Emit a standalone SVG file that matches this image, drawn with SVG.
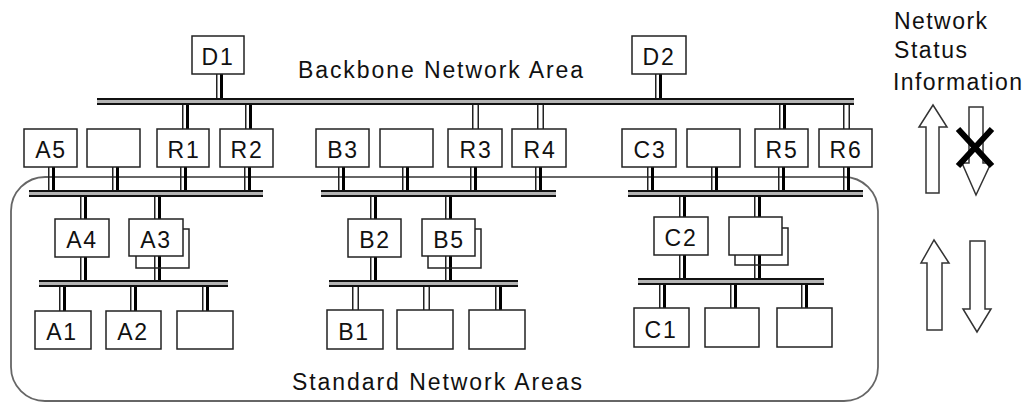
<svg xmlns="http://www.w3.org/2000/svg" width="1028" height="404" viewBox="0 0 1028 404">
  <style>
    text { font-family: "Liberation Sans", Arial, sans-serif; fill: #111; }
    .lbl { font-size: 23px; letter-spacing: 1.8px; text-anchor: middle; }
    .title { font-size: 23px; }
    .box { fill: #fff; stroke: #222; stroke-width: 1.5; }
    .back { fill: none; stroke: #222; stroke-width: 1.5; }
    .area { fill: none; stroke: #666; stroke-width: 1.8; }
    .bus-fill { fill: #b4b4b4; }
    .bus-edge { stroke: #111; stroke-width: 2; }
    .thin { stroke: #222; stroke-width: 1.5; }
    .thick { stroke: #000; stroke-width: 3; }
    .arrow { fill: #fff; stroke: #333; stroke-width: 1.5; stroke-linejoin: miter; }
    .cross { stroke: #000; stroke-width: 6; stroke-linecap: butt; }
  </style>

  <!-- boundary of the standard network areas -->
  <rect class="area" x="11" y="177" width="867" height="224" rx="34" ry="34"/>

  <!-- drop links between buses and stations -->
  <g id="connectors">
    <!-- backbone links -->
    <path class="thin" d="M216.75 74V98 M655.75 74V98 M182.75 105V129 M245.75 105V129 M472.75 105V129 M537.75 105V129 M779.75 105V129 M843.75 105V129 M478.25 105V129 M543.25 105V129 M849.25 105V129"/>
    <path class="thick" d="M221.5 74V98 M660.5 74V98 M187.5 105V129 M250.5 105V129 M784.5 105V129"/>
    <!-- row two to area buses -->
    <path class="thin" d="M48.75 167V190 M112.75 167V190 M180.75 167V190 M244.75 167V190 M338.75 167V190 M402.75 167V190 M470.75 167V190 M535.75 167V190 M647.75 167V190 M711.75 167V190 M778.75 167V190 M843.75 167V190"/>
    <path class="thick" d="M53.5 167V190 M117.5 167V190 M185.5 167V190 M249.5 167V190 M343.5 167V190 M407.5 167V190 M475.5 167V190 M540.5 167V190 M652.5 167V190 M716.5 167V190 M783.5 167V190 M848.5 167V190"/>
    <!-- area buses to routers below -->
    <path class="thin" d="M80.75 197V219 M154.75 197V219 M370.75 197V219 M445.75 197V219 M679.75 197V217 M754.75 197V217 M80.75 257V280 M154.75 256V280 M370.75 257V280 M445.75 256V280 M679.75 255V278 M754.75 255V278"/>
    <path class="thick" d="M85.5 197V219 M159.5 197V219 M375.5 197V219 M450.5 197V219 M684.5 197V217 M759.5 197V217 M85.5 257V280 M159.5 256V280 M375.5 257V280 M450.5 256V280 M684.5 255V278 M759.5 255V278"/>
    <!-- lower buses to end stations -->
    <path class="thin" d="M59.75 287V311 M130.75 287V311 M202.75 287V311 M352.75 287V310 M358.25 287V310 M423.75 287V310 M429.25 287V310 M495.75 287V310 M659.75 285V308 M730.75 285V308 M801.75 285V308"/>
    <path class="thick" d="M64.5 287V311 M135.5 287V311 M207.5 287V311 M500.5 287V310 M664.5 285V308 M735.5 285V308 M806.5 285V308"/>
  </g>

  <!-- network segments -->
  <g id="buses">
    <g id="bus-backbone">
      <rect class="bus-fill" x="97" y="98" width="757" height="7"/>
      <path class="bus-edge" d="M97 99H854 M97 104H854"/>
    </g>
    <g id="bus-a">
      <rect class="bus-fill" x="29" y="190" width="234" height="7"/>
      <path class="bus-edge" d="M29 191H263 M29 196H263"/>
    </g>
    <g id="bus-b">
      <rect class="bus-fill" x="321" y="190" width="235" height="7"/>
      <path class="bus-edge" d="M321 191H556 M321 196H556"/>
    </g>
    <g id="bus-c">
      <rect class="bus-fill" x="628" y="190" width="235" height="7"/>
      <path class="bus-edge" d="M628 191H863 M628 196H863"/>
    </g>
    <g id="bus-a-lower">
      <rect class="bus-fill" x="39" y="280" width="189" height="7"/>
      <path class="bus-edge" d="M39 281H228 M39 286H228"/>
    </g>
    <g id="bus-b-lower">
      <rect class="bus-fill" x="329" y="280" width="189" height="7"/>
      <path class="bus-edge" d="M329 281H518 M329 286H518"/>
    </g>
    <g id="bus-c-lower">
      <rect class="bus-fill" x="638" y="278" width="186" height="7"/>
      <path class="bus-edge" d="M638 279H824 M638 284H824"/>
    </g>
  </g>

  <!-- backbone stations -->
  <g id="node-d1"><rect class="box" x="192" y="36" width="52" height="38"/><text class="lbl" x="218" y="65">D1</text></g>
  <g id="node-d2"><rect class="box" x="632" y="36" width="54" height="38"/><text class="lbl" x="659" y="65">D2</text></g>

  <!-- row two -->
  <g id="node-a5"><rect class="box" x="24" y="129" width="53" height="38"/><text class="lbl" x="51" y="158">A5</text></g>
  <g id="node-a-blank"><rect class="box" x="87" y="129" width="53" height="38"/></g>
  <g id="node-r1"><rect class="box" x="157" y="129" width="52" height="38"/><text class="lbl" x="184" y="158">R1</text></g>
  <g id="node-r2"><rect class="box" x="220" y="129" width="53" height="38"/><text class="lbl" x="247" y="158">R2</text></g>
  <g id="node-b3"><rect class="box" x="316" y="129" width="53" height="38"/><text class="lbl" x="343" y="158">B3</text></g>
  <g id="node-b-blank"><rect class="box" x="380" y="129" width="53" height="38"/></g>
  <g id="node-r3"><rect class="box" x="448" y="129" width="54" height="38"/><text class="lbl" x="476" y="158">R3</text></g>
  <g id="node-r4"><rect class="box" x="512" y="129" width="54" height="38"/><text class="lbl" x="540" y="158">R4</text></g>
  <g id="node-c3"><rect class="box" x="622" y="129" width="54" height="38"/><text class="lbl" x="650" y="158">C3</text></g>
  <g id="node-c-blank"><rect class="box" x="687" y="129" width="53" height="38"/></g>
  <g id="node-r5"><rect class="box" x="755" y="129" width="53" height="38"/><text class="lbl" x="782" y="158">R5</text></g>
  <g id="node-r6"><rect class="box" x="819" y="129" width="53" height="38"/><text class="lbl" x="846" y="158">R6</text></g>

  <!-- row three -->
  <g id="node-a4"><rect class="box" x="55" y="219" width="54" height="38"/><text class="lbl" x="82" y="248">A4</text></g>
  <g id="node-a3"><rect class="back" x="136" y="229" width="53" height="39"/><rect class="box" x="129" y="219" width="54" height="37"/><text class="lbl" x="156" y="248">A3</text></g>
  <g id="node-b2"><rect class="box" x="348" y="219" width="53" height="38"/><text class="lbl" x="375" y="248">B2</text></g>
  <g id="node-b5"><rect class="back" x="428" y="229" width="53" height="39"/><rect class="box" x="422" y="219" width="53" height="37"/><text class="lbl" x="449" y="248">B5</text></g>
  <g id="node-c2"><rect class="box" x="654" y="217" width="54" height="38"/><text class="lbl" x="681" y="246">C2</text></g>
  <g id="node-c-pair"><rect class="back" x="735" y="228" width="53" height="37"/><rect class="box" x="729" y="217" width="53" height="38"/></g>

  <!-- end stations -->
  <g id="node-a1"><rect class="box" x="35" y="311" width="56" height="38"/><text class="lbl" x="62" y="340">A1</text></g>
  <g id="node-a2"><rect class="box" x="106" y="311" width="55" height="38"/><text class="lbl" x="133" y="340">A2</text></g>
  <g id="node-a-end"><rect class="box" x="177" y="311" width="56" height="38"/></g>
  <g id="node-b1"><rect class="box" x="327" y="310" width="56" height="39"/><text class="lbl" x="354" y="340">B1</text></g>
  <g id="node-b-end1"><rect class="box" x="397" y="310" width="56" height="39"/></g>
  <g id="node-b-end2"><rect class="box" x="469" y="310" width="56" height="39"/></g>
  <g id="node-c1"><rect class="box" x="634" y="308" width="55" height="39"/><text class="lbl" x="661" y="338">C1</text></g>
  <g id="node-c-end1"><rect class="box" x="705" y="308" width="54" height="39"/></g>
  <g id="node-c-end2"><rect class="box" x="777" y="308" width="55" height="39"/></g>

  <!-- area titles -->
  <text class="title" x="298" y="78" textLength="285" lengthAdjust="spacing">Backbone Network Area</text>
  <text class="title" x="292" y="390" textLength="290" lengthAdjust="spacing">Standard Network Areas</text>

  <!-- status information legend -->
  <g id="legend">
    <text class="title" x="894" y="29" textLength="93" lengthAdjust="spacing">Network</text>
    <text class="title" x="894" y="58" textLength="73" lengthAdjust="spacing">Status</text>
    <text class="title" x="893" y="90" textLength="129" lengthAdjust="spacing">Information</text>
    <polygon class="arrow" points="933,105 947,127 939,127 939,193 926,193 926,127 919,127"/>
    <polygon class="arrow" points="969,107 983,107 983,163 991,163 976,195 962,163 969,163"/>
    <path class="cross" d="M958 129L992 166 M992 129L958 166"/>
    <polygon class="arrow" points="934,240 949,263 942,263 942,330 927,330 927,263 921,263"/>
    <polygon class="arrow" points="970,241 985,241 985,309 991,309 977,332 963,309 970,309"/>
  </g>
</svg>
